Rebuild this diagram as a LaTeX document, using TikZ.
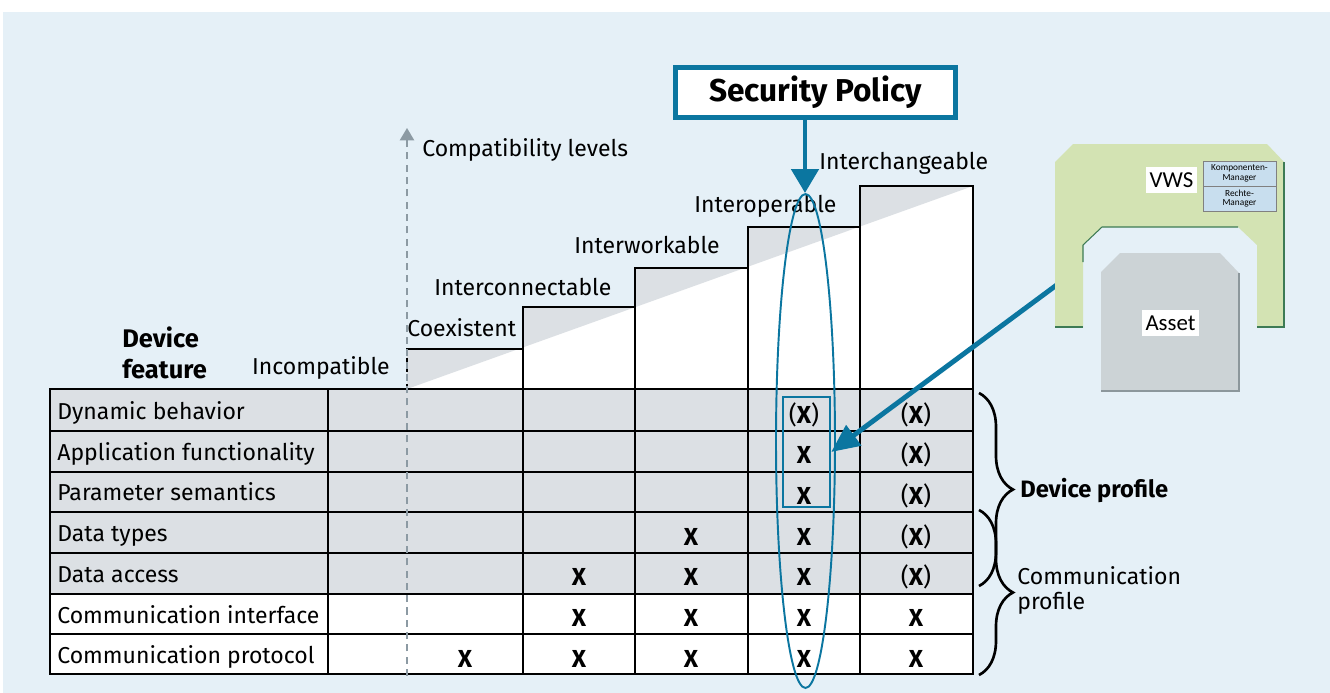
\documentclass[tikz,border=0pt]{standalone}
\usepackage{fontspec}
\setmainfont{Fira Sans}
\newfontfamily\calfont{Carlito}
\usetikzlibrary{arrows.meta,shapes.geometric,decorations.pathreplacing}
\definecolor{bgblue}{HTML}{E5F0F7}
\definecolor{rowgray}{HTML}{DCE0E4}
\definecolor{polblue}{HTML}{0B76A0}
\definecolor{vwsgreen}{HTML}{D3E3B3}
\definecolor{vwsedge}{HTML}{3D7B55}
\definecolor{assetgray}{HTML}{CCD3D6}
\definecolor{assetedge}{HTML}{8C979C}
\definecolor{mgrblue}{HTML}{C8DEEE}
\definecolor{axisgray}{HTML}{8C9AA3}

\begin{document}
\begin{tikzpicture}[x=0.02cm, y=-0.02cm,
    grid/.style={line width=1.6pt, line cap=rect},
    txt/.style={inner sep=0pt, font=\fontsize{13.1}{15}\selectfont},
    boldtxt/.style={inner sep=0pt, font=\bfseries\fontsize{13.5}{15}\selectfont},
    xmark/.style={inner sep=0pt, anchor=base, font=\fontsize{14}{16}\selectfont},
    profbrace/.style={decorate, decoration={brace, amplitude=0.68cm}, line width=1.5pt},
    mgr/.style={draw=gray, fill=mgrblue, line width=0.5pt, minimum width=1.46cm, minimum height=0.5cm,
        inner sep=0pt, align=center, font=\calfont\fontsize{5.3}{5.6}\selectfont},
    whitelbl/.style={fill=white, inner sep=0pt, font=\calfont\fontsize{13}{15}\selectfont},
]
    \useasboundingbox (0,0) rectangle (1330,693);
    \fill[bgblue] (3,12) rectangle (1330,693);

    % table rows
    \fill[rowgray] (50,389) rectangle (973,594);
    \fill[white] (50,594) rectangle (973,674);

    % steps
    \fill[white] (407,389) -- (407,349) -- (523,349) -- (523,307) -- (635,307) -- (635,268)
        -- (748,268) -- (748,227) -- (860,227) -- (860,186) -- (973,186) -- (973,389) -- cycle;
    \fill[rowgray] (407,389) -- (407,349) -- (523,349) -- (523,307) -- (635,307) -- (635,268)
        -- (748,268) -- (748,227) -- (860,227) -- (860,186) -- (973,186) -- cycle;
    \draw[grid] (407,349) -- (523,349) -- (523,307) -- (635,307) -- (635,268) -- (748,268)
        -- (748,227) -- (860,227) -- (860,186) -- (973,186) -- (973,674);
    \draw[grid] (523,349) -- (523,674);
    \draw[grid] (635,307) -- (635,674);
    \draw[grid] (748,268) -- (748,674);
    \draw[grid] (860,227) -- (860,674);
    \draw[grid] (50,389) rectangle (973,674);
    \draw[grid] (328,389) -- (328,674);
    \foreach \y in {431,472,512,553,594,634}
        \draw[grid] (50,\y) -- (973,\y);

    % compatibility axis
    \draw[black, line width=1.2pt, dash pattern=on 3pt off 2pt] (407,349) -- (407,389);
    \draw[axisgray, line width=1.2pt, dash pattern=on 4pt off 3pt, -{Triangle[length=7pt, width=8pt]}]
        (407,676) -- (407,128);
    \node[txt, anchor=west] (axislbl) at (422,150) {Compatibility levels};

    % level labels
    \node[txt, anchor=east] (incomp) at (390,368) {Incompatible};
    \node[txt, anchor=west] (coex) at (407,328) {Coexistent};
    \node[txt, anchor=west] (iconn) at (434,287.5) {Interconnectable};
    \node[txt, anchor=west] (iwork) at (574,245.5) {Interworkable};
    \node[txt, anchor=west] (iop) at (694,206.5) {Interoperable};
    \node[txt, anchor=west] (ichg) at (819,163.5) {Interchangeable};
    \node[inner sep=0pt, anchor=west, align=left, font=\bfseries\fontsize{14.5}{17.6}\selectfont]
        (feature) at (122,352.5) {Device\\feature};

    % feature rows
    \foreach \name [count=\i from 0] in {Dynamic behavior, Application functionality,
        Parameter semantics, Data types, Data access, Communication interface, Communication protocol}
        \node[txt, anchor=base west] (feat\i) at (57,{419.5+40.7*\i}) {\name};

    % marks
    \foreach \x/\r in {804/1, 804/2, 691/3, 804/3, 579/4, 691/4, 804/4,
        579/5, 691/5, 804/5, 916/5, 465/6, 579/6, 691/6, 804/6, 916/6}
        \node[xmark] (m\r-\x) at (\x,{423+40.7*\r}) {\textbf{X}};
    \foreach \x/\r in {804/0, 916/0, 916/1, 916/2, 916/3, 916/4}
        \node[xmark] (m\r-\x) at (\x,{423+40.7*\r}) {(\textbf{X})};

    % security policy
    \node[draw=polblue, line width=2.8pt, fill=white, minimum width=5.6cm, minimum height=1.0cm,
        font=\bfseries\fontsize{18}{21}\selectfont] (policy) at (815.5,92.5) {Security Policy};
    \node[ellipse, draw=polblue, line width=1.1pt, minimum width=1.18cm, minimum height=9.88cm,
        inner sep=0pt] (scope) at (805.5,441) {};
    \coordinate (scopetop) at (805,193);
    \draw[polblue, line width=2.8pt, -{Triangle[length=13.6pt, width=15.3pt]}]
        (policy.south -| scopetop) -- (scopetop);
    \node[draw=polblue, line width=1.4pt, minimum width=0.94cm, minimum height=2.2cm,
        inner sep=0pt] (focus) at (806.5,452) {};

    % VWS arrow
    \coordinate (vwsport) at (1058,284);
    \draw[polblue, line width=2.8pt, -{Triangle[length=16pt, width=14pt]}] (vwsport) -- (focus.east);

    % VWS and asset
    \fill[vwsgreen] (1055,162) -- (1073,144) -- (1267,144) -- (1284,162) -- (1284,327) -- (1257,327)
        -- (1257,245) -- (1238,227) -- (1102,227) -- (1083,245) -- (1083,327) -- (1055,327) -- cycle;
    \draw[vwsedge, line width=0.6pt] (1284,162) -- (1284,327) -- (1257,327);
    \draw[vwsedge, line width=0.6pt] (1083,327) -- (1055,327);
    \draw[vwsedge, line width=0.6pt] (1083,262) -- (1083,245) -- (1102,227) -- (1238,227);
    \node[whitelbl, minimum width=1.02cm, minimum height=0.52cm] (vws) at (1171.5,180) {VWS};
    \node[mgr] (komp) at (1239.5,173.5) {Komponenten-\\Manager};
    \node[mgr] (rechte) at (1239.5,198.5) {Rechte-\\Manager};
    \fill[assetgray] (1101,272) -- (1120,253) -- (1220,253) -- (1239,273) -- (1239,391) -- (1101,391) -- cycle;
    \draw[assetedge, line width=0.6pt] (1239,273) -- (1239,391) -- (1101,391);
    \node[whitelbl, minimum width=1.14cm, minimum height=0.52cm] (asset) at (1170.5,323) {Asset};

    % profiles
    \draw[profbrace] (979,393) -- (979,586);
    \node[boldtxt, anchor=west] (devprof) at (1020,491) {Device profile};
    \draw[profbrace] (979,510) -- (979,675);
    \node[txt, anchor=west, align=left, font=\fontsize{13.1}{14.2}\selectfont] (comprof) at (1017,590)
        {Communication\\profile};
\end{tikzpicture}
\end{document}
